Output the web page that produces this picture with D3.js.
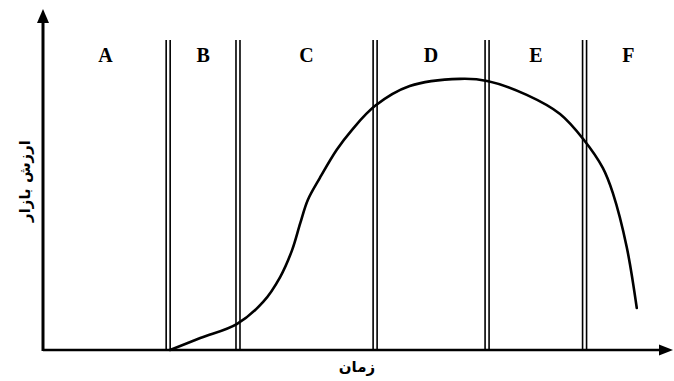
<!DOCTYPE html>
<html>
<head>
<meta charset="utf-8">
<script src="https://cdn.jsdelivr.net/npm/d3@7"></script>
<style>
html,body{margin:0;padding:0;background:#fff;}
svg{display:block;}
</style>
</head>
<body>
<svg id="chart" width="674" height="381"></svg>
<script>
// ---- data ----
const stageLabels = ["A", "B", "C", "D", "E", "F"];
const stageBounds = [19.9, 31.0, 52.8, 70.6, 86.1]; // time positions of the double dividers
const timeValues  = [20.2, 25.0, 30.8, 35.0, 37.7, 39.6, 40.9, 42.1, 44.0, 46.7, 49.1, 52.8, 58.3, 66.3, 70.6, 76.9, 82.2, 86.0, 89.0, 90.6, 92.8, 94.4];
const marketValue = [0, 3.5, 7.6, 14.1, 21.4, 29.3, 37.2, 44.0, 50.4, 58.7, 64.5, 71.6, 77.4, 79.5, 78.9, 74.8, 69.2, 61.6, 53.4, 46.0, 30.2, 12.3];
const xTitle = "زمان";
const yTitle = "ارزش بازار";

// ---- layout ----
const svg = d3.select("#chart");
const x = d3.scaleLinear().domain([0, 100]).range([43, 672]);
const y = d3.scaleLinear().domain([0, 100]).range([350, 9]);
const dividerTop = 40;

// dividers (double lines)
const dg = svg.append("g");
stageBounds.forEach(b => {
  [-2, 2].forEach(off => {
    dg.append("line")
      .attr("x1", x(b) + off).attr("x2", x(b) + off)
      .attr("y1", dividerTop).attr("y2", y(0))
      .attr("stroke", "#000").attr("stroke-width", 1.6);
  });
});

// stage labels at segment midpoints
const edges = [0, ...stageBounds, 100];
svg.append("g").selectAll("text").data(stageLabels).join("text")
  .attr("x", (d, i) => (x(edges[i]) + x(edges[i + 1])) / 2)
  .attr("y", 62)
  .attr("text-anchor", "middle")
  .attr("font-family", "'Liberation Serif', 'Times New Roman', serif")
  .attr("font-weight", "bold")
  .attr("font-size", 20)
  .attr("fill", "#000")
  .text(d => d);

// curve
const pts = timeValues.map((t, i) => [t, marketValue[i]]);
svg.append("path")
  .datum(pts)
  .attr("fill", "none")
  .attr("stroke", "#000")
  .attr("stroke-width", 2.6)
  .attr("stroke-linecap", "round")
  .attr("d", d3.line().x(d => x(d[0])).y(d => y(d[1])).curve(d3.curveCatmullRom.alpha(0.5)));

// axes
svg.append("line")
  .attr("x1", x(0)).attr("x2", x(100) - 10)
  .attr("y1", y(0)).attr("y2", y(0))
  .attr("stroke", "#000").attr("stroke-width", 2.5);
svg.append("line")
  .attr("x1", x(0)).attr("x2", x(0))
  .attr("y1", y(0) + 1).attr("y2", y(100) + 10)
  .attr("stroke", "#000").attr("stroke-width", 3);
// arrowheads
svg.append("path")
  .attr("d", `M${x(0)},${y(100)} L${x(0) - 6},${y(100) + 14} L${x(0) + 6},${y(100) + 14} Z`)
  .attr("fill", "#000");
svg.append("path")
  .attr("d", `M${x(100) + 1},${y(0)} L${x(100) - 13},${y(0) - 5.5} L${x(100) - 13},${y(0) + 5.5} Z`)
  .attr("fill", "#000");

// axis titles
svg.append("text")
  .attr("x", 357).attr("y", 372)
  .attr("text-anchor", "middle")
  .attr("font-family", "'DejaVu Sans', sans-serif")
  .attr("font-weight", "bold")
  .attr("font-size", 15)
  .attr("direction", "rtl")
  .text(xTitle);
svg.append("text")
  .attr("transform", "translate(30,181) rotate(-90)")
  .attr("text-anchor", "middle")
  .attr("font-family", "'DejaVu Sans', sans-serif")
  .attr("font-weight", "bold")
  .attr("font-size", 15)
  .attr("direction", "rtl")
  .text(yTitle);
</script>
</body>
</html>
